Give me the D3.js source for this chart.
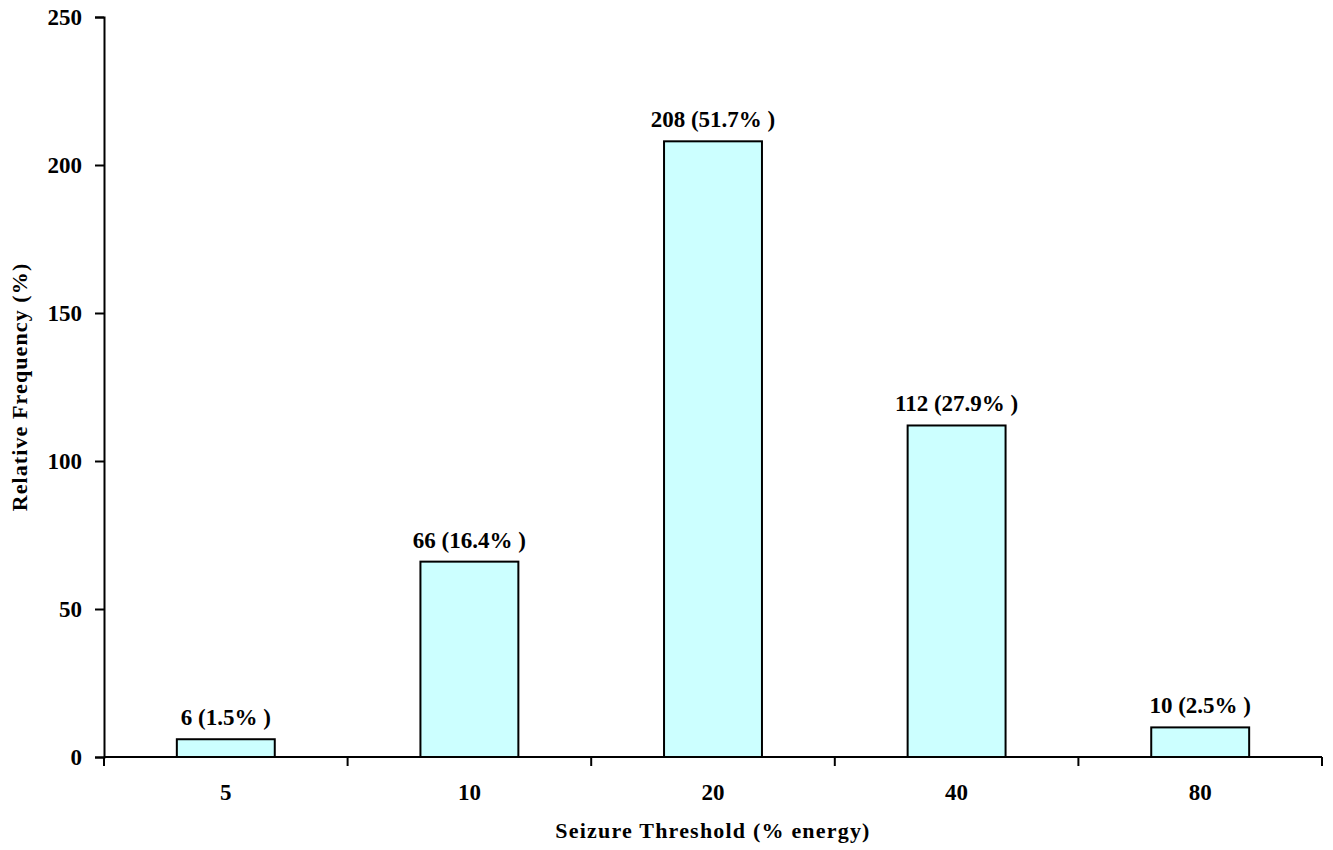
<!DOCTYPE html>
<html>
<head>
<meta charset="utf-8">
<script src="https://cdn.jsdelivr.net/npm/d3@7"></script>
<style>
  html, body { margin: 0; padding: 0; background: #ffffff; }
  svg text { font-family: "Liberation Serif", "Times New Roman", serif; font-weight: bold; fill: #000; }
</style>
</head>
<body>
<svg id="chart" width="1333" height="850"></svg>
<script>
// Seizure threshold distribution
const categories = ["5", "10", "20", "40", "80"];
const counts = [6, 66, 208, 112, 10];
const percents = ["1.5", "16.4", "51.7", "27.9", "2.5"];
const yTicks = [0, 50, 100, 150, 200, 250];

const margin = { left: 104, right: 11, top: 17, bottom: 93 };
const W = 1333, H = 850;
const svg = d3.select("#chart");

const x = d3.scaleBand()
  .domain(categories)
  .range([margin.left, W - margin.right])
  .paddingInner(0.598)
  .paddingOuter(0.299);

const y = d3.scaleLinear()
  .domain([0, 250])
  .range([H - margin.bottom, margin.top]);

// bars
svg.append("g").selectAll("rect")
  .data(categories)
  .join("rect")
  .attr("x", d => x(d))
  .attr("y", (d, i) => y(counts[i]))
  .attr("width", x.bandwidth())
  .attr("height", (d, i) => y(0) - y(counts[i]))
  .attr("fill", "#ccffff")
  .attr("stroke", "#000")
  .attr("stroke-width", 2);

// value labels
svg.append("g").selectAll("text")
  .data(categories)
  .join("text")
  .attr("x", d => x(d) + x.bandwidth() / 2)
  .attr("y", (d, i) => y(counts[i]) - 14)
  .attr("text-anchor", "middle")
  .style("font-size", "23px")
  .text((d, i) => `${counts[i]} (${percents[i]}% )`);

// y axis
const yAxis = svg.append("g")
  .attr("transform", `translate(${margin.left},0)`)
  .call(d3.axisLeft(y).tickValues(yTicks).tickSize(9).tickPadding(13));
yAxis.select(".domain").attr("stroke", "#000").attr("stroke-width", 2);
yAxis.selectAll(".tick line").attr("stroke", "#000").attr("stroke-width", 2);
yAxis.selectAll(".tick text")
  .style("font-size", "23px")
  .style("font-family", "'Liberation Serif', serif")
  .attr("fill", "#000");

// x axis: baseline with ticks at category boundaries
const x0 = margin.left, x1 = W - margin.right, y0 = y(0);
svg.append("line")
  .attr("x1", x0).attr("x2", x1).attr("y1", y0).attr("y2", y0)
  .attr("stroke", "#000").attr("stroke-width", 2);
const step = x.step();
const boundaries = d3.range(categories.length + 1).map(i => x0 + i * step);
svg.append("g").selectAll("line")
  .data(boundaries)
  .join("line")
  .attr("x1", d => d).attr("x2", d => d)
  .attr("y1", y0).attr("y2", y0 + 9)
  .attr("stroke", "#000").attr("stroke-width", 2);

svg.append("g").selectAll("text")
  .data(categories)
  .join("text")
  .attr("x", d => x(d) + x.bandwidth() / 2)
  .attr("y", y0 + 43)
  .attr("text-anchor", "middle")
  .style("font-size", "23px")
  .text(d => d);

// axis titles
svg.append("text")
  .attr("x", (x0 + x1) / 2)
  .attr("y", 838)
  .attr("text-anchor", "middle")
  .style("font-size", "22px")
  .style("letter-spacing", "1.2px")
  .text("Seizure Threshold (% energy)");

svg.append("text")
  .attr("transform", `translate(27,${(y(0) + y(250)) / 2}) rotate(-90)`)
  .attr("text-anchor", "middle")
  .style("font-size", "22px")
  .style("letter-spacing", "1.1px")
  .text("Relative Frequency (%)");
</script>
</body>
</html>
